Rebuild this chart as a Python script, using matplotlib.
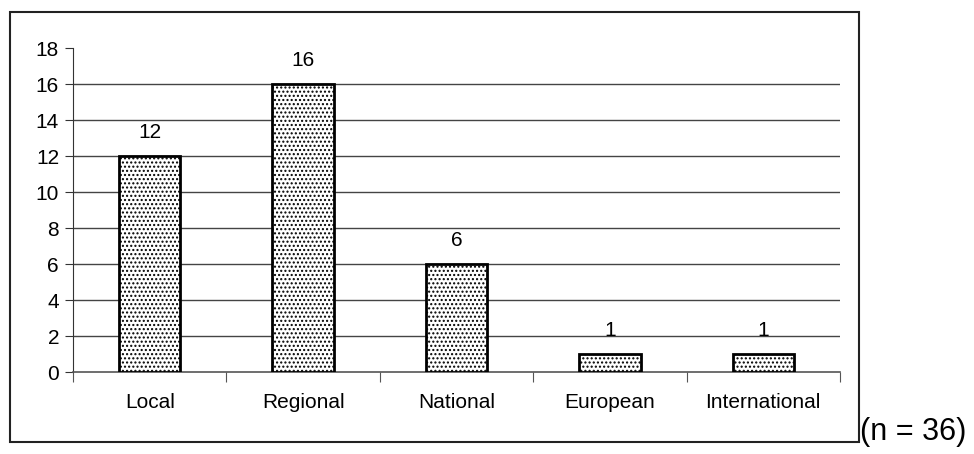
import matplotlib.pyplot as plt
from matplotlib.patches import Rectangle

# Scope of the organisations
categories = ['Local', 'Regional', 'National', 'European', 'International']
counts = [12, 16, 6, 1, 1]
n_total = 36

plt.rcParams['font.family'] = ['Liberation Sans', 'DejaVu Sans']
plt.rcParams['hatch.color'] = '#6a6a6a'
plt.rcParams['hatch.linewidth'] = 1.0

W, H = 974, 454
fig = plt.figure(figsize=(W / 100, H / 100), dpi=100)

# outer chart frame
fig.patches.append(Rectangle((10 / W, 1 - 442 / H), (859 - 10) / W, (442 - 12) / H,
                             transform=fig.transFigure, fill=False,
                             edgecolor='#222222', linewidth=1.5))

ax = fig.add_axes([73 / W, 1 - 372 / H, (840 - 73) / W, (372 - 48) / H])

x = range(len(categories))
bars = ax.bar(x, counts, width=0.4, color='white', edgecolor='black',
              linewidth=2, hatch='....', zorder=3)

for xi, v in zip(x, counts):
    ax.text(xi, v + 1.3, str(v), ha='center', va='center', fontsize=15)

ax.set_xlim(-0.5, len(categories) - 0.5)
ax.set_ylim(0, 18)
ax.set_yticks(range(0, 19, 2))
ax.tick_params(axis='y', labelsize=15, length=6, color='#333333', pad=4)

# category labels between the boundary ticks
ax.set_xticks([i - 0.5 for i in range(len(categories) + 1)])
ax.set_xticklabels([])
ax.set_xticks(list(x), minor=True)
ax.set_xticklabels(categories, minor=True, fontsize=15)
ax.tick_params(axis='x', which='major', length=7, color='#555555')
ax.tick_params(axis='x', which='minor', length=0, pad=15)

for y in range(2, 18, 2):
    ax.axhline(y, color='#444444', linewidth=1, zorder=1)

ax.spines['top'].set_visible(False)
ax.spines['right'].set_visible(False)
ax.spines['left'].set_color('#333333')
ax.spines['bottom'].set_color('#555555')
ax.spines['bottom'].set_linewidth(1.2)

fig.text(860 / W, 1 - 432 / H, f'(n = {n_total})', fontsize=22, va='center', ha='left')

fig.savefig('out.png', dpi=100)
